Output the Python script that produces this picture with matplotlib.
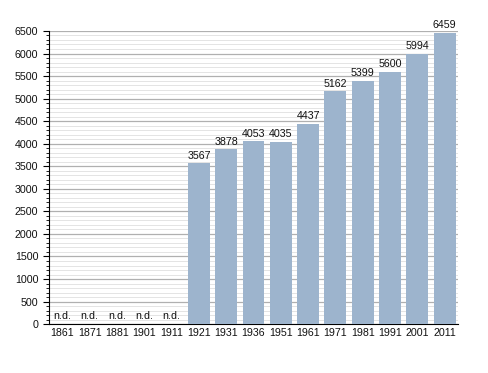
import matplotlib
matplotlib.use("Agg")
import matplotlib.pyplot as plt
from matplotlib.ticker import MultipleLocator

plt.rcParams["font.family"] = ["Liberation Sans", "DejaVu Sans"]

years = ["1861", "1871", "1881", "1901", "1911", "1921", "1931", "1936",
         "1951", "1961", "1971", "1981", "1991", "2001", "2011"]
population = [None, None, None, None, None, 3567, 3878, 4053,
              4035, 4437, 5162, 5399, 5600, 5994, 6459]

fig = plt.figure(figsize=(4.88, 3.73), dpi=100)
ax = fig.add_axes([0.1, 0.131, 0.839, 0.786])

x = list(range(len(years)))
vals = [v if v is not None else 0 for v in population]
ax.bar(x, vals, width=0.8, color="#9db4cd", zorder=3)

for xi, v in zip(x, population):
    if v is None:
        ax.text(xi, 60, "n.d.", ha="center", va="bottom", fontsize=7.7, color="#111111", zorder=4)
    else:
        ax.text(xi, v + 60, str(v), ha="center", va="bottom", fontsize=7.7, color="#111111", zorder=4)

ax.set_xlim(-0.5, len(years) - 0.5)
ax.set_ylim(0, 6500)
ax.set_xticks(x)
ax.set_xticklabels(years, fontsize=7.7, color="#111111")
ax.yaxis.set_major_locator(MultipleLocator(500))
ax.yaxis.set_minor_locator(MultipleLocator(100))
ax.tick_params(axis="y", which="major", labelsize=7.7, labelcolor="#111111", length=4, width=0.8, direction="out")
ax.tick_params(axis="y", which="minor", length=2, width=0.6, direction="out")
ax.tick_params(axis="x", length=0, pad=3)

ax.grid(axis="y", which="major", color="#b0b0b0", linewidth=0.9, zorder=0)
ax.grid(axis="y", which="minor", color="#e4e4e4", linewidth=0.7, zorder=0)
ax.set_axisbelow(True)

for s in ["top", "right"]:
    ax.spines[s].set_visible(False)
ax.spines["left"].set_color("black")
ax.spines["bottom"].set_color("black")

fig.savefig("out.png", dpi=100)
